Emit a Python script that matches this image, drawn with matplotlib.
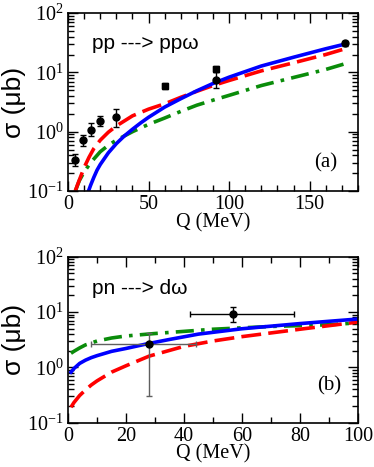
import matplotlib
matplotlib.use("Agg")
import matplotlib.pyplot as plt
from matplotlib.ticker import MultipleLocator, LogLocator, NullFormatter

plt.rcParams["mathtext.fontset"] = "stix"
plt.rcParams["font.family"] = ["Liberation Serif", "DejaVu Serif"]

# ---------------- panel (a): pp -> pp omega ----------------
qa_blue = [12.7, 14, 16, 18, 20, 25, 30, 35, 40, 45, 50, 60, 70, 80, 90, 100, 120, 140, 160, 172]
sa_blue = [0.1, 0.125, 0.17, 0.225, 0.28, 0.44, 0.63, 0.85, 1.1, 1.4, 1.75, 2.6, 3.6, 4.9, 6.5, 8.3, 12.8, 18, 25, 30]

qa_red = [4.5, 6, 8, 10, 13, 16, 20, 25, 30, 40, 50, 60, 70, 80, 90, 100, 120, 140, 160, 172]
sa_red = [0.1, 0.13, 0.18, 0.25, 0.37, 0.52, 0.72, 0.98, 1.25, 1.85, 2.4, 2.95, 3.8, 4.8, 6.0, 7.3, 10.6, 14.5, 20, 25]

qa_green = [4.5, 7, 10, 14, 20, 25, 30, 40, 50, 60, 70, 80, 90, 100, 120, 140, 160, 172]
sa_green = [0.1, 0.15, 0.21, 0.3, 0.46, 0.59, 0.72, 1.0, 1.33, 1.7, 2.2, 2.8, 3.4, 4.1, 6.0, 8.2, 11.2, 14]

qa_data = [4, 9, 14, 20, 30, 92, 172]
sa_data = [0.33, 0.72, 1.07, 1.53, 1.79, 7.4, 31]
sa_err_lo = [0.07, 0.15, 0.21, 0.27, 0.61, 2.0, 3]
sa_err_hi = [0.09, 0.15, 0.31, 0.32, 0.61, 2.8, 3]

qa_thick = [60, 92]
sa_thick = [5.9, 11.5]
sa_thick_err = [0.7, 1.4]

# ---------------- panel (b): pn -> d omega ----------------
qb_blue = [1, 2, 4, 6, 8, 10, 15, 20, 27, 35, 45, 60, 80, 100]
sb_blue = [0.82, 0.95, 1.18, 1.35, 1.5, 1.63, 1.95, 2.2, 2.65, 3.2, 4.0, 5.0, 6.2, 7.5]

qb_red = [1, 2, 4, 6, 8, 10, 15, 20, 28, 40, 50, 60, 80, 100]
sb_red = [0.19, 0.23, 0.31, 0.39, 0.48, 0.57, 0.82, 1.07, 1.6, 2.4, 3.0, 3.6, 4.9, 6.6]

qb_green = [1, 2, 4, 6, 10, 15, 20, 30, 50, 70, 90, 100]
sb_green = [1.8, 1.95, 2.25, 2.55, 3.0, 3.4, 3.7, 4.1, 4.9, 5.5, 5.9, 6.4]

qb_data = [28, 57]
sb_data = [2.65, 9.2]
qb_xerr_lo = [20, 15]
qb_xerr_hi = [16, 21]
sb_err_lo = [2.35, 2.6]
sb_err_hi = [1.55, 3.1]
qb_colors = ["#606060", "black"]

sans = ["Liberation Sans", "DejaVu Sans"]

fig = plt.figure(figsize=(3.74, 4.67), dpi=100)
ax1 = fig.add_axes([0.182, 0.591, 0.775, 0.381])
ax2 = fig.add_axes([0.182, 0.095, 0.775, 0.355])

BLUE = "#0000ff"
RED = "#ff0000"
GREEN = "#0a8c0a"
LW = 2.6
RED_DASH = (5.5, 2)
GREEN_DASH = (5, 2, 1, 2)

def style(ax, xmax, xmaj, xmin):
    ax.set_yscale("log")
    ax.set_ylim(0.1, 100)
    ax.set_xlim(0, xmax)
    ax.xaxis.set_major_locator(MultipleLocator(xmaj))
    ax.xaxis.set_minor_locator(MultipleLocator(xmin))
    ax.yaxis.set_major_locator(LogLocator(base=10))
    ax.yaxis.set_minor_locator(LogLocator(base=10, subs=range(2, 10)))
    ax.yaxis.set_minor_formatter(NullFormatter())
    ax.tick_params(which="both", direction="in", top=True, right=True, width=1)
    ax.tick_params(which="major", length=7, labelsize=14.5, pad=3)
    ax.tick_params(which="minor", length=4)
    for s in ax.spines.values():
        s.set_linewidth(1.2)
    ax.set_xlabel("Q (MeV)", fontsize=14.5, labelpad=-1)
    ax.set_ylabel("σ (μb)", family=sans, fontsize=19, labelpad=1)

# panel a
ax1.plot(qa_green, sa_green, color=GREEN, lw=LW, dashes=GREEN_DASH)
ax1.plot(qa_red, sa_red, color=RED, lw=LW, dashes=RED_DASH)
ax1.plot(qa_blue, sa_blue, color=BLUE, lw=LW)
ax1.errorbar(qa_data, sa_data, yerr=[sa_err_lo, sa_err_hi], fmt="o", color="black",
             ms=5, capsize=2.5, elinewidth=1, capthick=1)
ax1.errorbar(qa_thick, sa_thick, yerr=sa_thick_err, fmt="s", color="black",
             ms=4, capsize=2, elinewidth=4.5, capthick=1)
style(ax1, 180, 50, 10)
ax1.text(0.083, 0.83, "pp ---> ppω", transform=ax1.transAxes, family=sans,
         fontsize=15, va="center", ha="left")
ax1.text(0.89, 0.157, "(a)", transform=ax1.transAxes,
         fontsize=15, va="center", ha="center")

# panel b
ax2.plot(qb_green, sb_green, color=GREEN, lw=LW, dashes=GREEN_DASH)
ax2.plot(qb_red, sb_red, color=RED, lw=LW, dashes=RED_DASH)
ax2.plot(qb_blue, sb_blue, color=BLUE, lw=LW)
for i in range(len(qb_data)):
    ax2.errorbar([qb_data[i]], [sb_data[i]],
                 xerr=[[qb_xerr_lo[i]], [qb_xerr_hi[i]]],
                 yerr=[[sb_err_lo[i]], [sb_err_hi[i]]], fmt="o",
                 color="black", ecolor=qb_colors[i], ms=5, capsize=2.5,
                 elinewidth=1, capthick=1)
style(ax2, 100, 20, 10)
ax2.text(0.083, 0.81, "pn ---> dω", transform=ax2.transAxes, family=sans,
         fontsize=15, va="center", ha="left")
ax2.text(0.9, 0.22, "(b)", transform=ax2.transAxes,
         fontsize=15, va="center", ha="center")

fig.savefig("out.png", dpi=100)
